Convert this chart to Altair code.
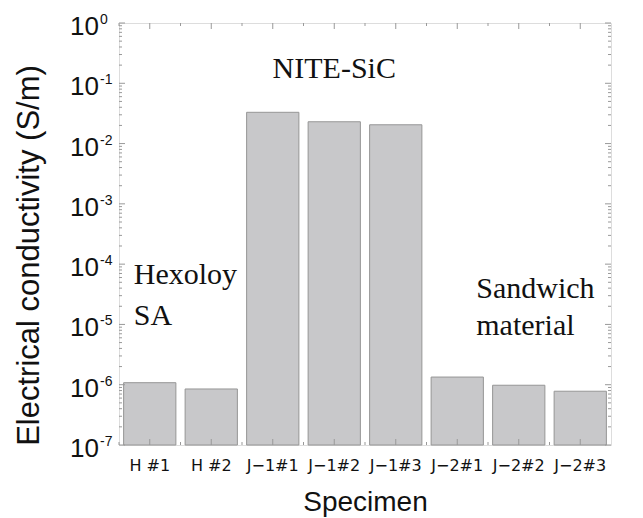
import altair as alt
import pandas as pd

# ---- data ----
specimens = ["H #1", "H #2", "J−1#1", "J−1#2", "J−1#3", "J−2#1", "J−2#2", "J−2#3"]
conductivity = [1.08e-6, 8.5e-7, 3.3e-2, 2.3e-2, 2.05e-2, 1.34e-6, 9.8e-7, 7.8e-7]

decade_values = [1e0, 1e-1, 1e-2, 1e-3, 1e-4, 1e-5, 1e-6, 1e-7]
decade_exponents = ["0", "-1", "-2", "-3", "-4", "-5", "-6", "-7"]
minor_values = [m * 10.0 ** k for k in range(-7, 0) for m in range(2, 10)]

ann_nite = ["NITE-SiC"]
ann_nite_x = ["J−1#2"]
ann_nite_y = [0.122]
ann_hex = ["Hexoloy", "SA"]
ann_hex_x = ["H #1", "H #1"]
ann_hex_y = [4.7e-5, 9.8e-6]
ann_sand = ["Sandwich", "material"]
ann_sand_x = ["J−2#1", "J−2#1"]
ann_sand_y = [2.75e-5, 6.7e-6]

W, H = 492, 422

bars_df = pd.DataFrame({"specimen": specimens, "value": conductivity})
dec_df = pd.DataFrame({"value": decade_values, "exp": decade_exponents})
minor_df = pd.DataFrame({"value": minor_values})
cat_df = pd.DataFrame({"specimen": specimens})
nite_df = pd.DataFrame({"specimen": ann_nite_x, "value": ann_nite_y, "label": ann_nite})
hex_df = pd.DataFrame({"specimen": ann_hex_x, "value": ann_hex_y, "label": ann_hex})
sand_df = pd.DataFrame({"specimen": ann_sand_x, "value": ann_sand_y, "label": ann_sand})

xscale = alt.Scale(domain=specimens, paddingInner=0, paddingOuter=0)
yscale = alt.Scale(type="log", domain=[1e-7, 1], nice=False)

SANS = "Liberation Sans"
SERIF = "Liberation Serif"
TICK = "#999999"

xaxis = alt.Axis(title="Specimen", labelAngle=0, ticks=False, domain=False, grid=False,
                 labelFont="DejaVu Sans", labelFontSize=16, labelColor="#111",
                 labelPadding=12, labelBaseline="top",
                 titleFont=SANS, titleFontSize=28, titleFontWeight="normal",
                 titleColor="#111", titlePadding=15)
yaxis = alt.Axis(labels=False, ticks=False, domain=False, grid=False,
                 title="Electrical conductivity (S/m)", titleFont=SANS,
                 titleFontSize=31, titleFontWeight="normal", titleColor="#111",
                 titleAngle=270, titleAlign="center", titleBaseline="middle",
                 titleX=-90, titleY=232)


def X(**kw):
    return alt.X("specimen:N", scale=xscale, sort=specimens, axis=xaxis, **kw)


def Y():
    return alt.Y("value:Q", scale=yscale, axis=yaxis)


bars = alt.Chart(bars_df).mark_bar(
    width=alt.RelativeBandSize(0.85), color="#c8c8ca", stroke="#969696", strokeWidth=1
).encode(x=X(), y=Y(), y2=alt.datum(1e-7))


def yrule(df, x0, x1):
    return alt.Chart(df).mark_rule(color=TICK, strokeWidth=1).encode(
        y=Y(), x=alt.value(x0), x2=alt.value(x1))


minor_l = yrule(minor_df, 0, 3)
minor_r = yrule(minor_df, W, W - 3)
major_l = yrule(dec_df, 0, 6)
major_r = yrule(dec_df, W, W - 6)


def xrule(bandpos, y0, y1):
    return alt.Chart(cat_df).mark_rule(color=TICK, strokeWidth=1).encode(
        x=X(bandPosition=bandpos), y=alt.value(y0), y2=alt.value(y1))


xt_bc = xrule(0.5, H, H - 6)
xt_bb = xrule(0, H, H - 3)
xt_tc = xrule(0.5, 0, 6)
xt_tb = xrule(0, 0, 3)

ten = alt.Chart(dec_df).mark_text(
    text="10", font=SANS, fontSize=26, align="right", baseline="alphabetic", dy=12, color="#111"
).encode(x=alt.value(-20), y=Y())

exps = alt.Chart(dec_df).mark_text(
    font=SANS, fontSize=14, align="left", baseline="alphabetic", dy=1, color="#111"
).encode(x=alt.value(-19), y=Y(), text="exp:N")


def ann(df, align, dx):
    return alt.Chart(df).mark_text(
        font=SERIF, fontSize=30, align=align, baseline="alphabetic", dx=dx, color="#111"
    ).encode(x=X(), y=Y(), text="label:N")


chart = alt.layer(
    bars, minor_l, minor_r, major_l, major_r, xt_bc, xt_bb, xt_tc, xt_tb,
    ten, exps, ann(nite_df, "center", 0), ann(hex_df, "left", -16), ann(sand_df, "left", 19)
).properties(
    width=W, height=H,
    autosize=alt.AutoSizeParams(type="none"),
    padding={"left": 111, "top": 15, "right": 24, "bottom": 73},
).configure_view(stroke="#a8a8a8", strokeWidth=1).configure(background="white")

chart.save("out.html", embed_options={"renderer": "svg", "actions": False})
